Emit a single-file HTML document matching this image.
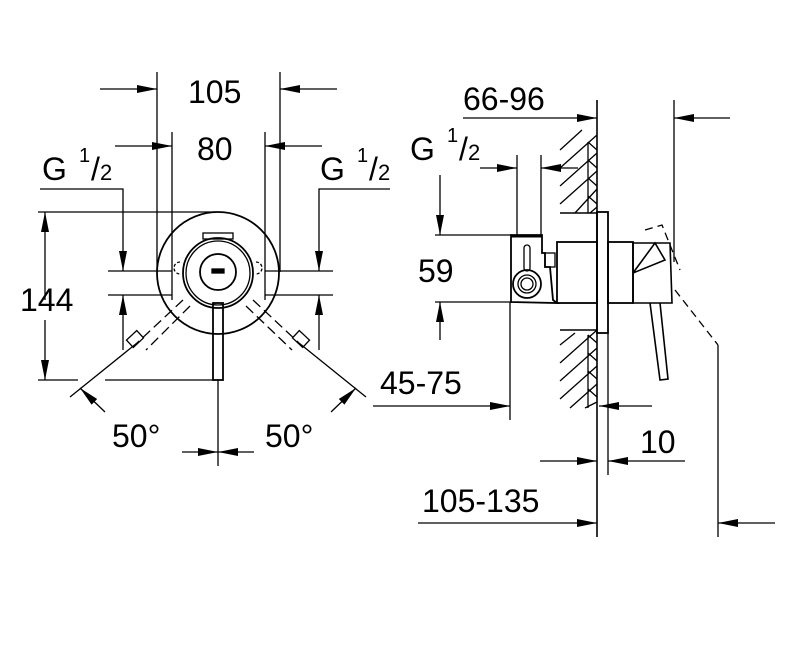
<!DOCTYPE html>
<html><head><style>body{margin:0;background:#fff}svg{display:block}text{font-family:"Liberation Sans",sans-serif;fill:#000}</style></head>
<body>
<svg width="789" height="660" viewBox="0 0 789 660" xmlns="http://www.w3.org/2000/svg">
<defs>
<marker id="a" viewBox="0 0 20 10" refX="20" refY="5" markerWidth="20" markerHeight="10" markerUnits="userSpaceOnUse" orient="auto"><path d="M0,1 L20,5 L0,9Z" fill="#000"/></marker>
</defs>
<g stroke="#000" stroke-width="1.3" fill="none">
<line x1="157" y1="72" x2="157" y2="272"/><line x1="280" y1="72" x2="280" y2="272"/>
<line x1="172" y1="132" x2="172" y2="300"/><line x1="265" y1="132" x2="265" y2="300"/>
<line x1="100" y1="89" x2="157" y2="89" marker-end="url(#a)"/>
<line x1="337" y1="89" x2="280" y2="89" marker-end="url(#a)"/>
<line x1="115" y1="146" x2="172" y2="146" marker-end="url(#a)"/>
<line x1="322" y1="146" x2="265" y2="146" marker-end="url(#a)"/>
<polyline points="40,189 123,189 123,271" marker-end="url(#a)"/>
<line x1="123" y1="350" x2="123" y2="295" marker-end="url(#a)"/>
<polyline points="390,189 319,189 319,271" marker-end="url(#a)"/>
<line x1="319" y1="350" x2="319" y2="295" marker-end="url(#a)"/>
<line x1="108" y1="271" x2="172" y2="271"/><line x1="265" y1="271" x2="333" y2="271"/>
<line x1="108" y1="295" x2="172" y2="295"/><line x1="265" y1="295" x2="333" y2="295"/>
<line x1="38" y1="212" x2="215" y2="212"/>
<line x1="38" y1="380" x2="78" y2="380"/><line x1="105" y1="380" x2="215" y2="380"/>
<line x1="45" y1="300" x2="45" y2="212" marker-end="url(#a)"/>
<line x1="45" y1="320" x2="45" y2="380" marker-end="url(#a)"/>
<circle cx="218" cy="273" r="61" stroke-width="1.8"/>
<circle cx="218" cy="273" r="35" stroke-width="1.8"/>
<circle cx="218" cy="273" r="32"/>
<circle cx="218" cy="272" r="18" stroke-width="1.8"/>
<rect x="212" y="269" width="12" height="4" fill="#000"/>
<rect x="213" y="303" width="10" height="77" stroke-width="1.8"/>
<rect x="203" y="233" width="30" height="6"/>
<path d="M180,262 a6,6 0 1,0 0,12 M256,262 a6,6 0 1,1 0,12" stroke-dasharray="3,2"/>
<path d="M183,300 L137,343 M190,306 L146,350" stroke-dasharray="10,5"/>
<path d="M253,300 L299,343 M246,306 L292,350" stroke-dasharray="10,5"/>
<rect x="128" y="334" width="14" height="10" transform="rotate(-43 135 339)"/>
<rect x="294" y="334" width="14" height="10" transform="rotate(43 301 339)"/>
<line x1="137" y1="343" x2="70" y2="397"/>
<line x1="299" y1="343" x2="366" y2="397"/>
<line x1="105" y1="412" x2="80" y2="388" marker-end="url(#a)"/>
<line x1="331" y1="412" x2="356" y2="388" marker-end="url(#a)"/>
<line x1="218" y1="380" x2="218" y2="466"/>
<line x1="182" y1="452" x2="218" y2="452" marker-end="url(#a)"/>
<line x1="254" y1="452" x2="218" y2="452" marker-end="url(#a)"/>
<line x1="597" y1="100" x2="597" y2="537" stroke-width="1.6"/>
<line x1="674" y1="100" x2="674" y2="262"/>
<line x1="463" y1="118" x2="597" y2="118" marker-end="url(#a)"/>
<line x1="730" y1="118" x2="674" y2="118" marker-end="url(#a)"/>
<line x1="517" y1="155" x2="517" y2="235"/><line x1="541" y1="155" x2="541" y2="235"/>
<line x1="480" y1="168" x2="517" y2="168" marker-end="url(#a)"/>
<line x1="578" y1="168" x2="541" y2="168" marker-end="url(#a)"/>
<line x1="435" y1="235" x2="512" y2="235"/><line x1="435" y1="302" x2="512" y2="302"/>
<line x1="440" y1="175" x2="440" y2="235" marker-end="url(#a)"/>
<line x1="440" y1="340" x2="440" y2="302" marker-end="url(#a)"/>
<line x1="510" y1="302" x2="510" y2="420"/>
<line x1="373" y1="406" x2="510" y2="406" marker-end="url(#a)"/>
<line x1="652" y1="406" x2="599" y2="406" marker-end="url(#a)"/>
<line x1="608" y1="333" x2="608" y2="475"/>
<line x1="540" y1="461" x2="597" y2="461" marker-end="url(#a)"/>
<line x1="685" y1="461" x2="608" y2="461" marker-end="url(#a)"/>
<line x1="418" y1="523" x2="597" y2="523" marker-end="url(#a)"/>
<line x1="718" y1="345" x2="718" y2="537"/>
<line x1="775" y1="523" x2="718" y2="523" marker-end="url(#a)"/>
<path d="M560,150 L582,130 M560,168 L597,135 M560,186 L597,153 M560,204 L597,171 M575,213 L597,189 M590,213 L597,207"/>
<path d="M588,142 L597,150 M588,160 L597,168 M588,178 L597,186 M588,196 L597,204 M588,142 L588,213"/>
<path d="M560,345 L575,333 M560,363 L597,330 M560,381 L597,348 M560,399 L597,366 M570,408 L597,384 M585,408 L597,402"/>
<path d="M588,335 L597,343 M588,353 L597,361 M588,371 L597,379 M588,389 L597,397 M588,335 L588,408"/>
<line x1="560" y1="213" x2="597" y2="213" stroke-width="1.6"/>
<line x1="560" y1="330" x2="597" y2="330" stroke-width="1.6"/>
<rect x="597" y="212" width="11" height="121" stroke-width="1.8"/>
<rect x="557" y="242" width="40" height="61" stroke-width="1.8"/>
<path d="M511,302 L511,235 L542,235 L542,253 L545,253 L545,267 L550,267 L553,300 L557,303 Z" stroke-width="1.8"/>
<rect x="545" y="253" width="10" height="14"/>
<line x1="511" y1="236" x2="542" y2="236" stroke-width="3"/>
<circle cx="527" cy="284" r="14" stroke-width="1.8"/><circle cx="527" cy="284" r="9"/><circle cx="527" cy="284" r="6"/>
<rect x="524" y="245" width="6" height="26" rx="3"/>
<rect x="608" y="242" width="25" height="61" stroke-width="1.8"/>
<path d="M633,243 L670,243 L672,303 L633,303 Z M633,273 L655,243 L665,260 L633,273" stroke-width="1.6"/>
<path d="M650,303 L660,380 L668,379 L660,303" stroke-width="1.6"/>
<path d="M645,230 L662,225 L680,270 M675,290 L718,345" stroke-dasharray="8,5"/>
</g>
<g font-size="32">
<text x="188" y="103">105</text>
<text x="197" y="160">80</text>
<text x="42" y="180">G</text><text x="79" y="162" font-size="20">1</text><text x="91" y="180">/</text><text x="100" y="180" font-size="22">2</text>
<text x="320" y="180">G</text><text x="357" y="162" font-size="20">1</text><text x="369" y="180">/</text><text x="378" y="180" font-size="22">2</text>
<text x="20" y="311">144</text>
<text x="112" y="447">50°</text>
<text x="265" y="447">50°</text>
<text x="463" y="110">66-96</text>
<text x="410" y="160">G</text><text x="447" y="142" font-size="20">1</text><text x="459" y="160">/</text><text x="468" y="160" font-size="22">2</text>
<text x="418" y="282">59</text>
<text x="380" y="394">45-75</text>
<text x="640" y="453">10</text>
<text x="422" y="512">105-135</text>
</g>
</svg>
</body></html>
